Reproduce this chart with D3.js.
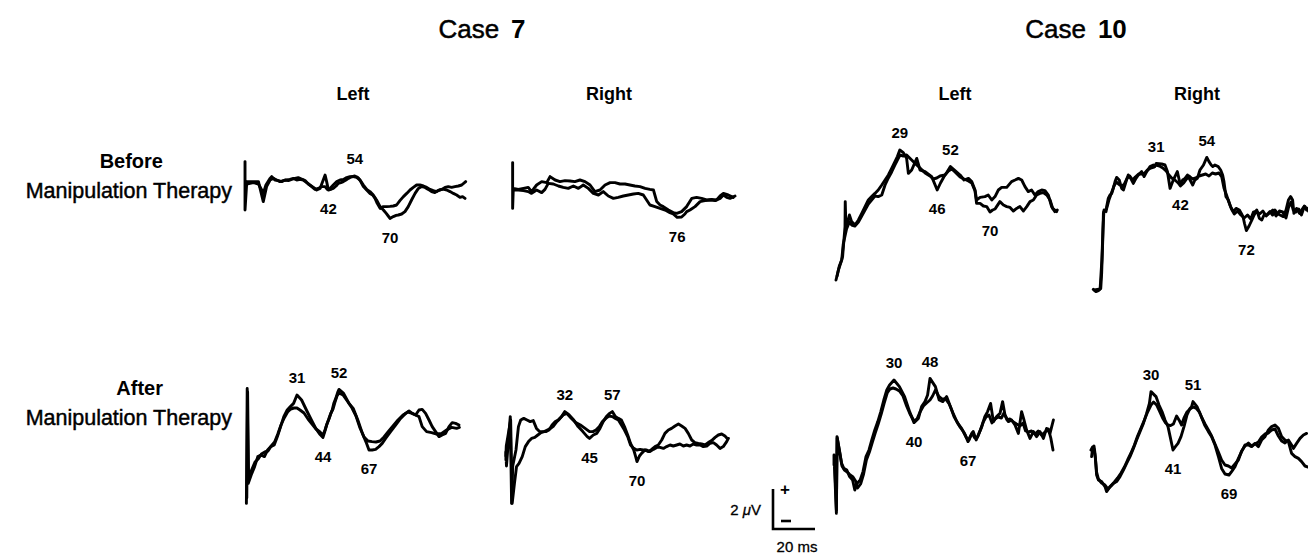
<!DOCTYPE html>
<html>
<head>
<meta charset="utf-8">
<script src="https://cdn.jsdelivr.net/npm/d3@7"></script>
<style>
  body { margin: 0; background: #fff; }
  svg { display: block; }
  text { font-family: "Liberation Sans", Arial, Helvetica, sans-serif; fill: #000; }
</style>
</head>
<body>
<svg id="chart" width="1308" height="555"></svg>
<script>
// Averaged evoked potentials, two superimposed runs per recording.
// Each trace: [time (ms), amplitude (µV)], positive up.

// ---- Case 7, Left, before therapy ----
const c7LeftBeforeA = [[4.1,0.07],[4.1,1.07],[4.1,-1.35],[4.9,0.07],[7.9,0.07],[10.2,0.07],[12.4,-0.93],[13.9,-0.18],[15.5,0.15],[17,0.23],[18.5,0.15],[20,0.07],[21.5,0.12],[23,0.15],[24.5,0.18],[26.1,0.23],[27.6,0.15],[29.1,0.18],[30.6,0.15],[32.1,0.02],[33.6,-0.1],[35.2,-0.22],[36.7,-0.35],[38.2,-0.27],[39.4,0.07],[40.5,0.4],[41.2,0.07],[42,-0.35],[43.5,-0.3],[44.2,-0.27],[45.5,-0.15],[46.5,-0.02],[47.7,0.02],[48.8,0.07],[50,0.15],[51.1,0.23],[52.3,0.3],[54,0.35],[55,0.3],[55.8,0.23],[56.7,0.07],[57.9,-0.18],[59.4,-0.35],[60.9,-0.52],[62.1,-0.6],[63.2,-0.77],[64.2,-1.02],[65.5,-1.27],[67,-1.18],[68.5,-1.18],[70,-1.17],[71.5,-1.15],[73,-1.1],[74.5,-0.88],[76.1,-0.68],[77.6,-0.52],[79.1,-0.35],[80.6,-0.22],[82.1,-0.1],[83.6,-0.1],[85.2,-0.15],[86.7,-0.22],[88.2,-0.32],[89.7,-0.38],[91.2,-0.43],[92.4,-0.35],[93.5,-0.32],[94.5,-0.32],[95.8,-0.35],[97.3,-0.43],[98.8,-0.52],[100.3,-0.6],[101.8,-0.72],[103,-0.68],[104.1,-0.77]];
const c7LeftBeforeB = [[4.9,-0.05],[7.9,0.02],[10.2,-0.05],[11.7,-0.35],[12.4,-0.52],[13.6,-0.1],[15.5,0.23],[16.2,0.32],[17.7,0.15],[19.2,0.12],[20.8,0.07],[22.3,0.15],[23.8,0.12],[25.3,0.18],[26.8,0.23],[28.3,0.27],[29.8,0.2],[31.4,0.12],[32.9,-0.05],[34.4,-0.18],[35.9,-0.32],[37.4,-0.27],[38.9,-0.18],[40.5,-0.18],[41.5,-0.32],[42.7,-0.27],[44.2,-0.1],[45.8,0.07],[47.3,0.15],[48.8,0.18],[50.3,0.27],[51.8,0.32],[53.3,0.32],[54.8,0.28],[56.4,0.15],[57.9,-0.1],[59.4,-0.32],[60.9,-0.43],[62.4,-0.6],[63.9,-0.85],[65.5,-1.18],[67,-1.35],[68.3,-1.52],[69.2,-1.65],[70,-1.77],[71.5,-1.68],[72.8,-1.62],[73.8,-1.6],[75.3,-1.55],[76.8,-1.43],[78.3,-1.18],[79.8,-0.85],[81.4,-0.52],[82.9,-0.27],[84.4,-0.18],[85.9,-0.22],[87.4,-0.32],[88.9,-0.43],[90.4,-0.48],[91.9,-0.38],[93.5,-0.32],[95,-0.22],[96.5,-0.18],[98,-0.22],[99.5,-0.18],[101.1,-0.15],[102.6,-0.1],[104.4,0.07]];
const c7LeftBeforePeaks = [54];
const c7LeftBeforeTroughs = [42, 70];

// ---- Case 7, Right, before therapy ----
const c7RightBeforeA = [[1.2,-0.02],[1.2,1.27],[1.2,-1.02],[1.5,-0.02],[3.8,-0.07],[6.1,-0.02],[8.3,0.03],[9.8,-0.18],[12.1,0.15],[14.4,0.32],[16.7,0.27],[18.2,0.57],[20.5,0.4],[22.7,0.32],[25,0.37],[27.3,0.35],[29.5,0.32],[31.8,0.4],[34.1,0.32],[36.4,0.15],[38.6,-0.18],[40.9,-0.1],[43.2,0.15],[45.5,0.27],[47.7,0.27],[50,0.2],[52.3,0.2],[54.5,0.15],[56.8,0.1],[59.1,0.07],[61.4,-0.02],[63.6,-0.07],[65.2,-0.1],[66.7,-0.68],[68.2,-0.85],[69.7,-0.93],[72,-1.1],[74.2,-1.23],[75.8,-1.27],[78,-1.18],[80.3,-0.93],[82.6,-0.52],[84.8,-0.47],[87.1,-0.52],[89.4,-0.6],[91.7,-0.57],[93.9,-0.6],[95.5,-0.4],[97,-0.27],[99.2,-0.35],[101.5,-0.47]];
const c7RightBeforeB = [[1.5,-0.1],[3.8,-0.1],[6.1,-0.13],[8.3,-0.18],[9.8,-0.27],[12.1,-0.1],[14.4,-0.23],[15.9,-0.07],[17.4,0.23],[19.7,0.2],[22,0.1],[24.2,0.03],[26.5,-0.02],[28.8,0.1],[31.1,-0.02],[33.3,0.15],[35.6,-0.02],[37.9,-0.27],[40.2,-0.35],[42.4,-0.18],[44.7,-0.4],[47,-0.52],[49.2,-0.47],[51.5,-0.4],[53.8,-0.35],[56.1,-0.3],[58.3,-0.27],[60.6,-0.35],[62.1,-0.6],[63.6,-0.85],[65.9,-0.93],[68.2,-1.02],[70.5,-1.1],[72.7,-1.23],[74.2,-1.3],[76,-1.47],[78,-1.45],[79.5,-1.3],[80.3,-1.18],[81.8,-1.1],[84.1,-0.93],[86.4,-0.68],[88.6,-0.63],[90.9,-0.6],[93.2,-0.63],[95.5,-0.52],[97,-0.35],[98.5,-0.47],[100,-0.52],[102.3,-0.4]];
const c7RightBeforePeaks = [];
const c7RightBeforeTroughs = [76];

// ---- Case 10, Left, before therapy ----
const c10LeftBeforeA = [[0,-3],[1.1,-2.5],[2.1,-2.17],[3,-1.83],[3.6,-1],[4.1,-0.33],[4.2,0.92],[4.5,-0.3],[4.8,-0.33],[6.1,0.25],[7.1,-0.08],[8.6,-0.25],[10.2,0],[11.7,0.33],[13.2,0.67],[14.7,1.0],[16.2,1.17],[17.7,1.33],[19.2,1.5],[20.8,1.75],[22.3,2.0],[23.8,2.25],[25.3,2.58],[26.8,2.92],[27.9,3.17],[29,3.5],[30.6,3.37],[32.1,3.08],[32.9,2.33],[34.4,2.5],[36.7,3.08],[38.2,2.5],[40.5,2.42],[43.5,2.17],[46,1.5],[47.5,1.85],[49,2.15],[50.5,2.4],[52,2.67],[54.1,2.47],[56.4,2.25],[58.2,2.0],[60.2,2.08],[61.7,1.92],[63.2,1.5],[63.9,1.0],[65.5,1.13],[67.7,1.17],[69.2,1.25],[70.8,1.0],[72.3,1.17],[73.8,1.5],[75.3,1.63],[77.6,1.63],[79.8,1.92],[81.4,2.0],[82.9,2.08],[84.4,2.0],[85.9,1.67],[87.4,1.42],[88.9,1.5],[90.4,1.25],[91.9,1.42],[93.5,1.5],[95,1.47],[96.5,1.25],[98,0.67],[99.5,0.42],[100.6,0.5]];
const c10LeftBeforeB = [[0.5,-2.8],[1.5,-2.3],[2.6,-2.0],[3.3,-1.2],[4.8,-0.45],[6.1,-0.1],[7.1,-0.25],[8.6,-0.3],[10.2,-0.1],[11.7,0.2],[13.2,0.5],[14.7,0.8],[16.2,1.0],[17.7,1.2],[19.2,1.17],[20.8,1.25],[22.3,1.75],[23.8,2.1],[25.3,2.4],[26.8,2.75],[27.9,3.0],[29.1,3.25],[30.6,3.2],[32.1,3.25],[34.4,3.0],[36.7,2.75],[38.2,2.6],[40.5,2.35],[42.7,2.2],[44.2,2.05],[45.8,2.1],[47.3,2.2],[49.5,2.25],[51.1,2.45],[52.6,2.55],[54.1,2.4],[56.4,2.15],[58.2,2.05],[60.2,1.95],[61.7,1.85],[63.2,1.45],[63.9,0.83],[65.5,0.83],[67,0.7],[68.5,0.67],[70,0.4],[71.2,0.5],[72.3,0.55],[73,0.67],[74.5,0.92],[76.1,0.75],[77.6,0.67],[79.1,0.63],[80.6,0.45],[82.1,0.58],[83.6,0.67],[85.2,0.45],[86.7,0.67],[88.2,0.92],[89.7,1.0],[91.2,1.25],[92.7,1.33],[94.2,1.37],[95.8,1.25],[97.3,1.0],[98.5,0.58],[100.3,0.42]];
const c10LeftBeforePeaks = [29, 52];
const c10LeftBeforeTroughs = [46, 70];

// ---- Case 10, Right, before therapy ----
const c10RightBeforeA = [[2.4,-4.47],[3.6,-4.58],[4.7,-4.53],[5.8,-4.42],[6.2,-3.67],[6.7,-2.0],[7.0,-0.67],[7.3,-0.5],[8.2,-0.58],[8.5,-0.33],[9.2,0.08],[10,0.25],[10.8,0.33],[11.5,0.58],[12.3,0.92],[13,1.13],[14.2,1.0],[15.3,0.58],[16.1,0.5],[17.3,0.92],[18.3,1.25],[19.4,1.08],[20.6,0.83],[21.8,1.08],[22.9,1.25],[24.4,1.42],[25.5,1.17],[26.7,1.42],[28.2,1.67],[29.7,1.75],[30.3,1.67],[31,1.83],[33.5,1.8],[35,1.75],[36.1,1.42],[37.3,0.58],[38.5,0.92],[39.5,1.17],[40.6,1.42],[42,0.75],[43,1.0],[44.1,1.08],[45.2,1.25],[46.4,1.0],[47.6,0.75],[48.6,1.0],[49.7,1.08],[50.9,1.5],[52.5,1.75],[54,2.13],[55,1.92],[56,1.75],[56.7,1.67],[57.7,1.75],[59.2,1.67],[60.3,1.5],[61.2,1.25],[61.8,0.92],[62.7,0.17],[63.8,0],[64.8,-0.33],[66.1,-0.58],[67.3,-0.42],[68.8,-0.5],[69.7,-0.67],[70.5,-0.85],[71.2,-1.2],[72,-1.53],[73.2,-1.3],[74.5,-1.0],[75.5,-0.75],[76.7,-0.5],[77.9,-0.92],[79,-1.0],[80,-0.75],[81.2,-0.75],[82.7,-0.58],[83.9,-0.75],[85,-0.5],[86.1,-0.67],[87.3,-0.75],[88.8,-0.83],[90,-0.5],[91.1,0],[92.1,0.17],[93,0],[93.6,-0.67],[94.8,-0.42],[96.1,-0.67],[97.1,-0.5],[98.2,-0.33],[99.4,-0.5],[100.2,-0.4]];
const c10RightBeforeB = [[3,-4.5],[5.5,-4.45],[6.3,-3.0],[6.8,-1.5],[7.2,-0.6],[8.4,-0.45],[9.5,0.0],[10.5,0.3],[11.8,0.7],[12.8,0.9],[14.5,0.75],[15.5,0.7],[16.5,0.8],[17.8,1.1],[19,1.2],[20.3,1.0],[21.5,1.15],[23,1.3],[24.5,1.3],[25.8,1.35],[27,1.5],[28.5,1.6],[30,1.65],[31,1.75],[32.5,1.7],[34,1.6],[35.5,1.45],[36.8,1.25],[38,1.1],[39.5,1.0],[41,0.85],[42,0.7],[43.5,0.85],[44.8,1.05],[46,1.2],[47.5,1.05],[49,1.1],[50.5,1.2],[52,1.25],[53.5,1.3],[55,1.2],[56.5,1.35],[58,1.3],[59.5,1.35],[60.8,1.15],[61.8,0.6],[62.8,0.3],[64,-0.1],[65.2,-0.45],[66.5,-0.7],[68,-0.55],[69.5,-0.75],[71,-0.9],[72.5,-0.75],[74,-0.95],[75.2,-0.6],[76.5,-0.55],[78,-0.7],[79.5,-0.55],[81,-0.8],[82.5,-0.65],[84,-0.5],[85.5,-0.8],[87,-0.55],[88.5,-0.6],[90,-0.9],[91.2,-0.35],[92.3,-0.1],[93.3,-0.5],[94.5,-0.6],[95.8,-0.45],[97,-0.75],[98.4,-0.3],[99.5,-0.45],[100.5,-0.6]];
const c10RightBeforePeaks = [31, 54];
const c10RightBeforeTroughs = [42, 72];

// ---- Case 7, Left, after therapy ----
const c7LeftAfterA = [[5.7,-3.67],[6.1,2.08],[6.6,-2.67],[8.1,-2.25],[9.8,-1.83],[11.4,-1.33],[13,-1.25],[14.7,-1.33],[16.3,-1.0],[17.9,-0.83],[19.6,-0.75],[21.2,-0.33],[22.8,0.17],[24.4,0.67],[26.1,1.0],[27.7,1.17],[29.3,1.33],[31,1.75],[33.3,1.5],[35.7,1.0],[38.2,0.5],[40.4,0.08],[42.3,-0.2],[44,-0.37],[44.9,-0.08],[45.8,0.25],[46.7,0.5],[47.6,0.75],[48.6,1.0],[49.4,1.33],[50.4,1.58],[51.3,1.87],[52,2.03],[54.3,1.83],[57,1.33],[59.1,1.08],[61.4,0.5],[63.7,-0.17],[65.8,-0.67],[67,-1.0],[68.6,-1.0],[70.3,-0.97],[72,-0.83],[73.6,-0.67],[75.3,-0.42],[77.8,-0.08],[80.3,0.25],[82.8,0.58],[85.3,0.83],[87,0.95],[88.6,0.83],[90.3,0.75],[92,1.0],[93.6,1.03],[95.3,0.83],[97,0.5],[98.6,0.17],[100.3,-0.08],[102,-0.33],[103.6,-0.25],[105.3,-0.17],[107,0.17],[108.6,0.37],[110.3,0.33],[112,0.25]];
const c7LeftAfterB = [[5.9,-3.4],[6.3,1.9],[6.8,-2.4],[8.3,-2.0],[10,-1.6],[11.6,-1.45],[13.2,-1.2],[14.9,-1.1],[16.5,-1.05],[18.1,-0.8],[19.8,-0.6],[21.4,-0.2],[23,0.25],[24.6,0.6],[26.3,0.9],[27.9,1.05],[29.5,1.1],[31,1.1],[32.5,1.0],[34.5,0.85],[36.5,0.55],[38.5,0.3],[40.5,0.05],[42.5,-0.1],[44,-0.25],[45,0.0],[46,0.3],[47,0.55],[48,0.85],[49,1.05],[50,1.4],[51,1.7],[52,1.85],[54,1.75],[56.5,1.4],[58.5,1.1],[60.5,0.7],[62.5,0.1],[64.5,-0.35],[66.5,-0.55],[68.5,-0.58],[70.5,-0.6],[72.5,-0.55],[74.5,-0.35],[76.5,-0.1],[79,0.2],[81.5,0.5],[84,0.75],[86.5,0.9],[88.6,0.83],[90.3,0.75],[92,0.67],[93.6,0.17],[95.8,-0.08],[98.3,-0.13],[100.8,-0.2],[103.3,-0.17],[105.8,0.0],[108.3,0.13],[110.8,0.08],[112.2,0.13]];
const c7LeftAfterPeaks = [31, 52];
const c7LeftAfterTroughs = [44, 67];

// ---- Case 7, Right, after therapy ----
const c7RightAfterA = [[1.0,-2.0],[1.0,-1.6],[1.3,-2.3],[3.3,0.17],[4.0,-4.17],[4.6,-2.3],[6.3,-1.5],[7.6,-0.33],[8.8,0.0],[10.4,0.08],[12.1,0.0],[13.8,-0.08],[15.4,-0.03],[17.1,-0.42],[18.7,-0.58],[20.4,-0.58],[22,-0.58],[23.7,-0.5],[25.3,-0.25],[27,-0.08],[28.6,0.0],[30.3,0.17],[32,0.42],[34.3,0.25],[36.7,0.0],[39,-0.33],[41.5,-0.58],[43.8,-0.83],[45,-0.92],[47,-0.75],[48.8,-0.67],[50.5,-0.42],[52.2,-0.08],[53.9,0.17],[55.6,0.33],[57,0.42],[58.6,0.17],[60.2,0.08],[61.8,0.0],[63.4,-0.33],[65.1,-0.75],[66.6,-1.17],[68.3,-1.5],[69.3,-1.83],[70,-2.08],[71.3,-1.8],[72.4,-1.67],[74.2,-1.5],[76,-1.58],[77.7,-1.47],[79.5,-1.33],[81.2,-1.25],[83,-1.0],[84.7,-0.67],[86.5,-0.5],[88.2,-0.42],[90,-0.3],[91.8,-0.2],[93.5,-0.3],[95.3,-0.42],[97,-0.67],[98.8,-1.0],[100.5,-1.13],[102.3,-1.17],[104,-1.2],[105.8,-1.25],[107.5,-1.13],[109.3,-1.03],[111.1,-0.87],[112.8,-0.75],[114.6,-0.7],[116.3,-0.8],[117.5,-0.92]];
const c7RightAfterB = [[1.0,-1.8],[1.2,-1.3],[3.5,0.0],[4.3,-4.17],[5.5,-3.17],[6.6,-2.33],[7.9,-2.17],[9.6,-1.83],[11.2,-1.33],[12.9,-1.08],[14.5,-0.92],[16.2,-0.87],[17.8,-0.75],[19.5,-0.63],[21.2,-0.58],[22.8,-0.5],[24.5,-0.42],[26.1,-0.3],[27.8,-0.08],[29.5,0.08],[31.1,0.25],[33.1,0.33],[35.5,0.08],[37.8,-0.13],[40.2,-0.25],[42.7,-0.42],[45,-0.58],[46.8,-0.58],[48.4,-0.5],[50.2,-0.33],[51.8,-0.08],[53.6,0.08],[55.2,0.2],[57,0.17],[58.6,0.08],[60.2,0.0],[61.8,-0.25],[63.4,-0.5],[65.1,-0.83],[66.6,-1.25],[68.3,-1.42],[69.9,-1.5],[71.6,-1.47],[73.3,-1.5],[75.1,-1.5],[76.8,-1.58],[78.6,-1.47],[80.4,-1.37],[82.1,-1.37],[83.9,-1.42],[85.6,-1.33],[87.4,-1.25],[89.1,-1.3],[90.9,-1.25],[92.6,-1.2],[94.4,-1.3],[96.1,-1.25],[97.9,-1.3],[99.6,-1.2],[101.4,-1.25],[103.2,-1.25],[104.9,-1.33],[106.7,-1.3],[108.4,-1.17],[110.2,-1.13],[111.9,-1.25],[113.7,-1.42],[115.4,-1.33],[117.2,-1.08],[118.1,-0.92]];
const c7RightAfterPeaks = [32, 57];
const c7RightAfterTroughs = [45, 70];

// ---- Case 10, Left, after therapy ----
const c10LeftAfterA = [[0,-2.25],[0,-1.75],[1.2,-4.67],[1.5,-0.83],[2.7,-1.5],[3.8,-2.17],[4.9,-2.42],[6.4,-2.5],[7.8,-2.83],[9.3,-3.0],[10.4,-3.5],[11.5,-3.17],[13.1,-3.0],[14.5,-2.58],[16,-1.83],[17.5,-1.5],[18.9,-1.0],[20.4,-0.5],[21.9,-0.08],[23.4,0.42],[24.9,1.0],[26.4,1.5],[27.8,1.75],[30,2.0],[32.7,1.67],[35.3,1.17],[37.8,0.42],[40,-0.13],[42.2,0.08],[43.8,0.67],[45.5,0.92],[46.8,1.25],[48,2.08],[50.7,1.67],[52.6,1.0],[54.4,0.92],[56.3,1.17],[58.2,0.67],[60,0.17],[61.9,-0.17],[63.8,-0.42],[65.6,-0.75],[67,-1.08],[68.1,-0.83],[69.6,-0.58],[71.1,-1.0],[72.5,-0.67],[73.9,-0.33],[75.4,0.17],[76.8,0.42],[78.3,0.83],[79.7,-0.08],[81.3,0.17],[83,0.33],[84.3,0.92],[85.5,0.25],[87.2,-0.08],[88.8,0],[90.5,-0.25],[92.2,-0.67],[93.8,0.42],[95,0],[96.3,-0.5],[98,-0.92],[99.7,-0.58],[101.3,-0.83],[103,-0.58],[104.7,-0.92],[106.3,-0.42],[108,-0.67],[109.7,0]];
const c10LeftAfterB = [[0.3,-2.0],[1.2,-4.5],[1.6,-0.9],[2.8,-1.6],[4,-2.3],[5.2,-2.5],[6.6,-2.6],[8.1,-2.75],[9.5,-2.85],[10.8,-3.05],[11.8,-3.4],[13.3,-3.2],[14.8,-2.7],[16.2,-2.0],[17.7,-1.6],[19.2,-1.1],[20.6,-0.65],[22.1,-0.2],[23.6,0.3],[25.1,0.85],[26.6,1.35],[28,1.55],[29.5,1.6],[31,1.55],[32.7,1.45],[34.5,1.2],[36.3,0.7],[38,0.3],[40,-0.05],[41.5,0.05],[43,0.4],[44.7,0.7],[46.3,0.85],[48,1.0],[49.3,1.2],[50.7,1.5],[52.3,1.2],[54,1.05],[55.8,1.05],[57.6,0.8],[59.5,0.35],[61.3,-0.05],[63,-0.35],[64.8,-0.6],[66.3,-0.9],[67.5,-1.0],[69,-0.65],[70.4,-0.9],[71.8,-0.85],[73.2,-0.5],[74.6,-0.1],[76,0.15],[77.5,0.25],[79,-0.15],[80.5,0.05],[82.1,0.15],[83.7,0.1],[85,0.35],[86.5,0.0],[88,0.05],[89.7,-0.1],[91.3,-0.2],[93,-0.3],[94.5,-0.15],[95.8,-0.55],[97.2,-0.6],[98.8,-0.55],[100.5,-0.7],[102.1,-0.55],[103.8,-0.75],[105.5,-0.6],[107.2,-0.45],[108.4,-0.9],[109.5,-1.5]];
const c10LeftAfterPeaks = [30, 48];
const c10LeftAfterTroughs = [40, 67];

// ---- Case 10, Right, after therapy ----
const c10RightAfterA = [[0.3,-0.83],[0.8,-0.42],[1.5,-0.3],[2,-0.67],[2.5,-1.33],[2.8,-1.75],[3.7,-2.0],[5.3,-2.08],[7,-2.33],[7.8,-2.58],[9.5,-2.33],[11.2,-2.17],[12.8,-2.08],[14.5,-1.83],[16.2,-1.5],[17.8,-1.17],[19.5,-0.83],[21.2,-0.42],[22.8,0.0],[24.5,0.42],[26.2,0.83],[27.8,1.33],[29.2,1.83],[30,2.42],[32.5,2.17],[34,1.75],[35.5,1.42],[37,1.0],[38.5,0.67],[41,-0.5],[42.2,-0.33],[43.5,-0.17],[45,0.17],[46.5,0.67],[48,1.25],[49.5,1.58],[50.3,1.67],[51,1.92],[53,1.67],[54.8,1.25],[56.8,0.75],[58.7,0.42],[60.3,0.17],[62,-0.25],[63.7,-0.83],[65.3,-1.42],[67,-1.7],[69,-1.75],[70.3,-1.58],[72,-1.33],[73.7,-0.92],[75.3,-0.58],[77,-0.25],[78.7,-0.25],[80.3,-0.33],[82,-0.17],[83.7,-0.33],[85.3,0.0],[87,0.17],[88.7,0.5],[90.3,0.67],[92,0.75],[93.7,0.58],[95.3,0.17],[97,0.0],[98.7,-0.08],[100.3,-0.67],[102,-0.83],[103.7,-0.92],[105.3,-1.08],[107,-1.3],[108.5,-1.35]];
const c10RightAfterB = [[0,-0.5],[0.8,-0.35],[1.5,-0.45],[2.2,-0.9],[2.8,-1.6],[3.7,-1.95],[5.3,-2.15],[7,-2.25],[8.5,-2.45],[10,-2.3],[11.7,-2.1],[13.3,-1.9],[15,-1.65],[16.7,-1.35],[18.3,-1.0],[20,-0.65],[21.7,-0.25],[23.3,0.2],[25,0.6],[26.7,1.0],[28.3,1.4],[30,1.75],[31.3,1.9],[32.8,1.75],[34.2,1.45],[35.8,1.1],[37.3,0.85],[38.5,0.75],[39.8,0.72],[41.2,0.8],[42.8,1.2],[44.3,0.95],[45.3,0.75],[46.5,1.1],[48,1.4],[49.5,1.55],[51,1.65],[52.5,1.6],[54.2,1.4],[55.5,1.1],[57,0.8],[58.7,0.5],[60.3,0.2],[62,-0.2],[63.7,-0.6],[65.3,-1.0],[67,-1.25],[68.7,-1.3],[70.3,-1.4],[72,-1.2],[73.7,-1.0],[75.3,-0.55],[77,-0.3],[78.7,-0.15],[80.3,-0.3],[82,-0.2],[83.7,-0.1],[85.3,0.15],[87,0.3],[88.7,0.35],[90.3,0.5],[92,0.55],[93.7,0.2],[95.3,-0.05],[97,-0.15],[98.7,0.0],[100.3,-0.25],[101.2,-0.42],[102.8,-0.17],[104.5,0.08],[106.2,0.25],[107.8,0.33]];
const c10RightAfterPeaks = [30, 51];
const c10RightAfterTroughs = [41, 69];

// Headings
const caseTitles = ["7", "10"];
const sideLabels = ["Left", "Right", "Left", "Right"];
const conditionLabels = ["Before", "After"];
const conditionSubLabel = "Manipulation Therapy";

// Calibration mark
const calAmplitude = 2;   // µV
const calDuration = 20;   // ms

// ---------------- layout ----------------
const W = 1308, H = 555;
const pxPerMicroV = 20;   // shared vertical gain
const calPxPerMs = 2.1;

// Per-recording placement: time origin x, ms scale, baseline y
const panels = [
  { a: c7LeftBeforeA,   b: c7LeftBeforeB,   peaks: c7LeftBeforePeaks,   troughs: c7LeftBeforeTroughs,   x0: 236,  k: 2.2, base: 183 },
  { a: c7RightBeforeA,  b: c7RightBeforeB,  peaks: c7RightBeforePeaks,  troughs: c7RightBeforeTroughs,  x0: 510,  k: 2.2, base: 188 },
  { a: c10LeftBeforeA,  b: c10LeftBeforeB,  peaks: c10LeftBeforePeaks,  troughs: c10LeftBeforeTroughs,  x0: 836,  k: 2.2, base: 220 },
  { a: c10RightBeforeA, b: c10RightBeforeB, peaks: c10RightBeforePeaks, troughs: c10RightBeforeTroughs, x0: 1088, k: 2.2, base: 200 },
  { a: c7LeftAfterA,    b: c7LeftAfterB,    peaks: c7LeftAfterPeaks,    troughs: c7LeftAfterTroughs,    x0: 235,  k: 2.0, base: 430 },
  { a: c7RightAfterA,   b: c7RightAfterB,   peaks: c7RightAfterPeaks,   troughs: c7RightAfterTroughs,   x0: 504,  k: 1.9, base: 420 },
  { a: c10LeftAfterA,   b: c10LeftAfterB,   peaks: c10LeftAfterPeaks,   troughs: c10LeftAfterTroughs,   x0: 834,  k: 2.0, base: 420 },
  { a: c10RightAfterA,  b: c10RightAfterB,  peaks: c10RightAfterPeaks,  troughs: c10RightAfterTroughs,  x0: 1091, k: 2.0, base: 440 }
];

const svg = d3.select("#chart");
svg.append("rect").attr("width", W).attr("height", H).attr("fill", "#fff");

// amplitude at a given latency, linearly interpolated
const bisect = d3.bisector(d => d[0]).left;
function valueAt(tr, t) {
  const i = bisect(tr, t);
  if (i <= 0) return tr[0][1];
  if (i >= tr.length) return tr[tr.length - 1][1];
  const p = tr[i - 1], q = tr[i];
  if (q[0] === p[0]) return q[1];
  return p[1] + (q[1] - p[1]) * (t - p[0]) / (q[0] - p[0]);
}

const gTraces = svg.append("g");
panels.forEach(p => {
  const x = d3.scaleLinear().domain([0, 100]).range([p.x0, p.x0 + 100 * p.k]);
  const y = d3.scaleLinear().domain([-5, 5]).range([p.base + 5 * pxPerMicroV, p.base - 5 * pxPerMicroV]);
  const line = d3.line().x(d => x(d[0])).y(d => y(d[1]));
  const g = gTraces.append("g");
  g.selectAll("path").data([p.a, p.b]).join("path")
    .attr("d", line)
    .attr("fill", "none")
    .attr("stroke", "#000")
    .attr("stroke-width", 2.9)
    .attr("stroke-linejoin", "round")
    .attr("stroke-linecap", "round");

  const marks = p.peaks.map(t => ({ t, up: true })).concat(p.troughs.map(t => ({ t, up: false })));
  g.selectAll("text").data(marks).join("text")
    .attr("x", d => x(d.t))
    .attr("y", d => {
      const va = valueAt(p.a, d.t), vb = valueAt(p.b, d.t);
      return d.up ? y(Math.max(va, vb)) - 17 : y(Math.min(va, vb)) + 19;
    })
    .attr("dy", "0.36em")
    .attr("text-anchor", "middle")
    .attr("font-size", 15)
    .attr("font-weight", "bold")
    .text(d => d.t);
});

// Case titles
const titleX = [482, 1076];
caseTitles.forEach((c, i) => {
  const t = svg.append("text").attr("x", titleX[i]).attr("y", 38)
    .attr("text-anchor", "middle").attr("font-size", 26);
  t.append("tspan").attr("stroke", "#000").attr("stroke-width", 0.5).text("Case");
  t.append("tspan").attr("dx", 12).attr("font-weight", "bold").text(c);
});

// Side headings
const sideX = [353, 609, 955, 1197];
svg.selectAll("text.side").data(sideLabels).join("text")
  .attr("class", "side")
  .attr("x", (d, i) => sideX[i]).attr("y", 100)
  .attr("text-anchor", "middle").attr("font-size", 18).attr("font-weight", "bold")
  .text(d => d);

// Row labels
const rowY = [168, 395];
conditionLabels.forEach((c, i) => {
  svg.append("text").attr("x", 163).attr("y", rowY[i])
    .attr("text-anchor", "end").attr("font-size", 20).attr("font-weight", "bold").text(c);
  svg.append("text").attr("x", 232).attr("y", rowY[i] + 30)
    .attr("text-anchor", "end").attr("font-size", 21.5)
    .attr("stroke", "#000").attr("stroke-width", 0.45).text(conditionSubLabel);
});

// Calibration bar
const calX = d3.scaleLinear().domain([0, calDuration]).range([773, 773 + calDuration * calPxPerMs]);
const calY = d3.scaleLinear().domain([0, calAmplitude]).range([529, 529 - calAmplitude * pxPerMicroV]);
const cal = svg.append("g");
cal.append("path")
  .attr("d", `M${calX(0)},${calY(calAmplitude)}V${calY(0)}H${calX(calDuration)}`)
  .attr("fill", "none").attr("stroke", "#000").attr("stroke-width", 2.6);
cal.append("text").attr("x", calX(0) + 12).attr("y", calY(calAmplitude) + 6)
  .attr("text-anchor", "middle").attr("font-size", 17).attr("font-weight", "bold").text("+");
cal.append("path")
  .attr("d", `M${calX(0) + 8},${calY(0) - 8}h10`)
  .attr("stroke", "#000").attr("stroke-width", 2.6);
const amp = cal.append("text").attr("x", calX(0) - 12).attr("y", (calY(0) + calY(calAmplitude)) / 2 + 6)
  .attr("text-anchor", "end").attr("font-size", 15).attr("stroke", "#000").attr("stroke-width", 0.3);
amp.append("tspan").text(calAmplitude + " ");
amp.append("tspan").attr("font-style", "italic").text("μ");
amp.append("tspan").text("V");
cal.append("text").attr("x", (calX(0) + calX(calDuration)) / 2 + 3).attr("y", 552)
  .attr("text-anchor", "middle").attr("font-size", 15).attr("stroke", "#000").attr("stroke-width", 0.3)
  .text(calDuration + " ms");
</script>
</body>
</html>
